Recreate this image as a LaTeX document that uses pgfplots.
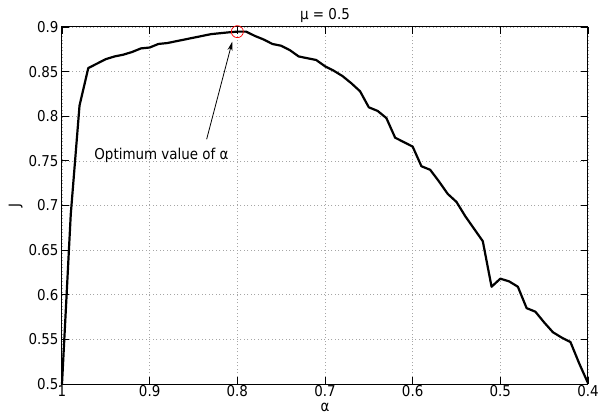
\documentclass[border=0pt]{standalone}
\usepackage{pgfplots}
\pgfplotsset{compat=1.18}
\usepackage{fontspec}
\setmainfont{DejaVu Sans Condensed}
\usetikzlibrary{arrows.meta}
\pgfplotstableread{
x y
1.00 0.500
0.99 0.690
0.98 0.812
0.97 0.854
0.96 0.859
0.95 0.864
0.94 0.867
0.93 0.869
0.92 0.872
0.91 0.876
0.90 0.877
0.89 0.881
0.88 0.882
0.87 0.884
0.86 0.886
0.85 0.888
0.84 0.890
0.83 0.892
0.82 0.893
0.81 0.894
0.80 0.8948
0.79 0.8948
0.78 0.890
0.77 0.886
0.76 0.881
0.75 0.879
0.74 0.874
0.73 0.867
0.72 0.865
0.71 0.863
0.70 0.856
0.69 0.851
0.68 0.845
0.67 0.837
0.66 0.828
0.65 0.810
0.64 0.806
0.63 0.798
0.62 0.776
0.61 0.771
0.60 0.766
0.59 0.744
0.58 0.740
0.57 0.727
0.56 0.713
0.55 0.704
0.54 0.688
0.53 0.674
0.52 0.660
0.51 0.609
0.50 0.618
0.49 0.615
0.48 0.609
0.47 0.585
0.46 0.581
0.45 0.569
0.44 0.558
0.43 0.552
0.42 0.547
0.41 0.523
0.40 0.501
}\datatable
\begin{document}
\begin{tikzpicture}[font=\fontsize{15}{17}\selectfont]
\useasboundingbox (-62bp,-35bp) rectangle (537bp,384bp);
\begin{axis}[
  at={(0,0)}, anchor=south west,
  scale only axis, width=526bp, height=357bp,
  x dir=reverse,
  xmin=0.4, xmax=1, ymin=0.5, ymax=0.9,
  xtick={0.4,0.5,...,1.0},
  ytick={0.5,0.55,...,0.9},
  /pgf/number format/assume math mode=true,
  /pgf/number format/fixed,
  /pgf/number format/precision=2,
  tick align=inside,
  major tick length=7bp,
  tick style={black, line width=0.8pt},
  axis line style={black, line width=1pt},
  grid=major,
  grid style={gray!70, line width=0.6pt, dash pattern=on 1bp off 2.5bp},
  xlabel={α},
  ylabel={J},
  title={μ = 0.5},
  title style={yshift=-5bp},
  xticklabel style={yshift=2bp},
  xlabel style={yshift=1bp},
  ylabel style={yshift=-1bp},
  clip=false,
]
\addplot[black, line width=2.2bp, line join=round] table[x=x,y=y] {\datatable};
\addplot[only marks, mark=o, red, mark size=6bp, mark options={line width=0.7pt}] coordinates {(0.8,0.8948)};
\draw[-{Stealth[length=9bp,width=5bp]}, line width=0.8pt] (axis cs:0.835,0.7742) -- (axis cs:0.8058,0.8835);
\node at (axis cs:0.8865,0.7567) {Optimum value of α};
\end{axis}
\end{tikzpicture}
\end{document}
